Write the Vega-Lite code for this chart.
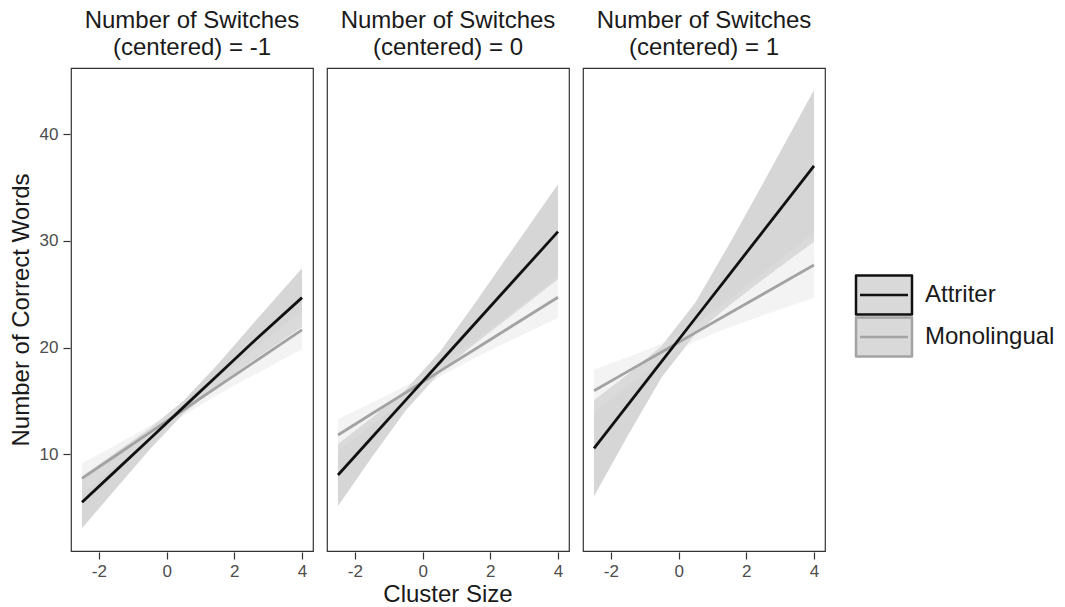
{
  "$schema": "https://vega.github.io/schema/vega-lite/v6.json",
  "padding": {"left": 9, "top": 9, "right": 5, "bottom": 2},
  "background": "white",
  "data": {
    "values": [
      {"sw": -1, "group": "Monolingual", "x": -2.5, "fit": 7.75, "lo": 6.34, "hi": 9.16},
      {"sw": -1, "group": "Monolingual", "x": -1.5, "fit": 9.89, "lo": 8.91, "hi": 10.87},
      {"sw": -1, "group": "Monolingual", "x": -0.5, "fit": 12.03, "lo": 11.4, "hi": 12.66},
      {"sw": -1, "group": "Monolingual", "x": 0.5, "fit": 14.17, "lo": 13.66, "hi": 14.68},
      {"sw": -1, "group": "Monolingual", "x": 1.5, "fit": 16.31, "lo": 15.56, "hi": 17.06},
      {"sw": -1, "group": "Monolingual", "x": 2.5, "fit": 18.45, "lo": 17.3, "hi": 19.6},
      {"sw": -1, "group": "Monolingual", "x": 4, "fit": 21.66, "lo": 19.85, "hi": 23.47},
      {"sw": 0, "group": "Monolingual", "x": -2.5, "fit": 11.81, "lo": 10.31, "hi": 13.31},
      {"sw": 0, "group": "Monolingual", "x": -1.5, "fit": 13.8, "lo": 12.76, "hi": 14.84},
      {"sw": 0, "group": "Monolingual", "x": -0.5, "fit": 15.78, "lo": 15.14, "hi": 16.42},
      {"sw": 0, "group": "Monolingual", "x": 0.5, "fit": 17.77, "lo": 17.26, "hi": 18.28},
      {"sw": 0, "group": "Monolingual", "x": 1.5, "fit": 19.75, "lo": 18.96, "hi": 20.54},
      {"sw": 0, "group": "Monolingual", "x": 2.5, "fit": 21.74, "lo": 20.52, "hi": 22.96},
      {"sw": 0, "group": "Monolingual", "x": 4, "fit": 24.71, "lo": 22.78, "hi": 26.64},
      {"sw": 1, "group": "Monolingual", "x": -2.5, "fit": 15.96, "lo": 13.96, "hi": 17.96},
      {"sw": 1, "group": "Monolingual", "x": -1.5, "fit": 17.77, "lo": 16.45, "hi": 19.09},
      {"sw": 1, "group": "Monolingual", "x": -0.5, "fit": 19.58, "lo": 18.79, "hi": 20.37},
      {"sw": 1, "group": "Monolingual", "x": 0.5, "fit": 21.4, "lo": 20.61, "hi": 22.19},
      {"sw": 1, "group": "Monolingual", "x": 1.5, "fit": 23.21, "lo": 21.89, "hi": 24.53},
      {"sw": 1, "group": "Monolingual", "x": 2.5, "fit": 25.02, "lo": 23.02, "hi": 27.02},
      {"sw": 1, "group": "Monolingual", "x": 4, "fit": 27.74, "lo": 24.67, "hi": 30.81},
      {"sw": -1, "group": "Attriter", "x": -2.5, "fit": 5.5, "lo": 3.06, "hi": 7.94},
      {"sw": -1, "group": "Attriter", "x": -1.5, "fit": 8.47, "lo": 6.78, "hi": 10.16},
      {"sw": -1, "group": "Attriter", "x": -0.5, "fit": 11.44, "lo": 10.45, "hi": 12.43},
      {"sw": -1, "group": "Attriter", "x": 0.5, "fit": 14.42, "lo": 13.82, "hi": 15.02},
      {"sw": -1, "group": "Attriter", "x": 1.5, "fit": 17.39, "lo": 16.4, "hi": 18.38},
      {"sw": -1, "group": "Attriter", "x": 2.5, "fit": 20.36, "lo": 18.67, "hi": 22.05},
      {"sw": -1, "group": "Attriter", "x": 4, "fit": 24.68, "lo": 21.93, "hi": 27.43},
      {"sw": 0, "group": "Attriter", "x": -2.5, "fit": 8.06, "lo": 5.16, "hi": 10.96},
      {"sw": 0, "group": "Attriter", "x": -1.5, "fit": 11.57, "lo": 9.72, "hi": 13.42},
      {"sw": 0, "group": "Attriter", "x": -0.5, "fit": 15.08, "lo": 14.11, "hi": 16.05},
      {"sw": 0, "group": "Attriter", "x": 0.5, "fit": 18.58, "lo": 17.61, "hi": 19.55},
      {"sw": 0, "group": "Attriter", "x": 1.5, "fit": 22.09, "lo": 20.24, "hi": 23.94},
      {"sw": 0, "group": "Attriter", "x": 2.5, "fit": 25.6, "lo": 22.7, "hi": 28.5},
      {"sw": 0, "group": "Attriter", "x": 4, "fit": 30.86, "lo": 26.41, "hi": 35.31},
      {"sw": 1, "group": "Attriter", "x": -2.5, "fit": 10.56, "lo": 6.06, "hi": 15.06},
      {"sw": 1, "group": "Attriter", "x": -1.5, "fit": 14.63, "lo": 11.76, "hi": 17.5},
      {"sw": 1, "group": "Attriter", "x": -0.5, "fit": 18.7, "lo": 17.22, "hi": 20.18},
      {"sw": 1, "group": "Attriter", "x": 0.5, "fit": 22.77, "lo": 21.29, "hi": 24.25},
      {"sw": 1, "group": "Attriter", "x": 1.5, "fit": 26.84, "lo": 23.97, "hi": 29.71},
      {"sw": 1, "group": "Attriter", "x": 2.5, "fit": 30.91, "lo": 26.41, "hi": 35.41},
      {"sw": 1, "group": "Attriter", "x": 4, "fit": 37.02, "lo": 29.92, "hi": 44.12}
    ]
  },
  "facet": {
    "column": {
      "field": "sw",
      "type": "ordinal",
      "sort": "ascending",
      "title": "Cluster Size",
      "header": {
        "titleOrient": "bottom",
        "labelOrient": "top",
        "titleFontSize": 24,
        "titleFont": "Liberation Sans",
        "titleFontWeight": "normal",
        "titleColor": "#1a1a1a",
        "titlePadding": -6,
        "labelExpr": "['Number of Switches', '(centered) = ' + datum.value]",
        "labelFontSize": 24,
        "labelFont": "Liberation Sans",
        "labelColor": "#1a1a1a",
        "labelLineHeight": 27,
        "labelPadding": 7
      }
    }
  },
  "spacing": 12,
  "spec": {
    "width": 242,
    "height": 483,
    "layer": [
      {
        "transform": [{"filter": "datum.group == 'Attriter'"}],
        "mark": {"type": "area", "opacity": 0.4, "fill": "#999999"},
        "encoding": {
          "x": {"field": "x", "type": "quantitative"},
          "y": {"field": "lo", "type": "quantitative", "stack": null},
          "y2": {"field": "hi"}
        }
      },
      {
        "transform": [{"filter": "datum.group == 'Monolingual'"}],
        "mark": {"type": "area", "opacity": 0.4, "fill": "#e0e0e0"},
        "encoding": {
          "x": {"field": "x", "type": "quantitative"},
          "y": {"field": "lo", "type": "quantitative", "stack": null},
          "y2": {"field": "hi"}
        }
      },
      {
        "mark": {"type": "line", "strokeWidth": 2.8},
        "encoding": {
          "x": {
            "field": "x",
            "type": "quantitative",
            "title": null,
            "scale": {"domain": [-2.825, 4.325], "nice": false, "zero": false},
            "axis": {"values": [-2, 0, 2, 4], "labelExpr": "datum.value < 0 ? '-' + abs(datum.value) : '' + datum.value"}
          },
          "y": {
            "field": "fit",
            "type": "quantitative",
            "title": "Number of Correct Words",
            "scale": {"domain": [0.94, 46.19], "nice": false, "zero": false},
            "axis": {"values": [10, 20, 30, 40]}
          },
          "color": {
            "field": "group",
            "type": "nominal",
            "scale": {"domain": ["Attriter", "Monolingual"], "range": ["#111111", "#a3a3a3"]},
            "legend": {
              "title": null,
              "orient": "none",
              "legendX": 792,
              "legendY": 206,
              "padding": 0,
              "symbolType": "M-1.436,-1H1.436V1H-1.436Z M-1.23,0H1.23",
              "symbolSize": 1521,
              "symbolStrokeWidth": 2.5,
              "labelFontSize": 24,
              "labelFont": "Liberation Sans",
              "labelColor": "#1a1a1a",
              "labelOffset": 20,
              "rowPadding": 0,
              "symbolFillColor": "#d9d9d9",
              "encode": {"symbols": {"update": {"strokeJoin": {"value": "round"}}}}
            }
          }
        }
      }
    ]
  },
  "resolve": {"scale": {"x": "shared", "y": "shared"}},
  "config": {
    "font": "Liberation Sans",
    "view": {"stroke": "#333333", "strokeWidth": 1.2},
    "axis": {
      "grid": false,
      "domain": false,
      "tickColor": "#333333",
      "tickSize": 7,
      "tickWidth": 1.2,
      "labelFont": "Liberation Sans",
      "labelFontSize": 17,
      "labelColor": "#4d4d4d",
      "titleFont": "Liberation Sans",
      "titleFontSize": 24,
      "titleFontWeight": "normal",
      "titleColor": "#1a1a1a"
    },
    "axisX": {"labelPadding": 4},
    "axisY": {"labelPadding": 5, "titlePadding": 6}
  }
}
